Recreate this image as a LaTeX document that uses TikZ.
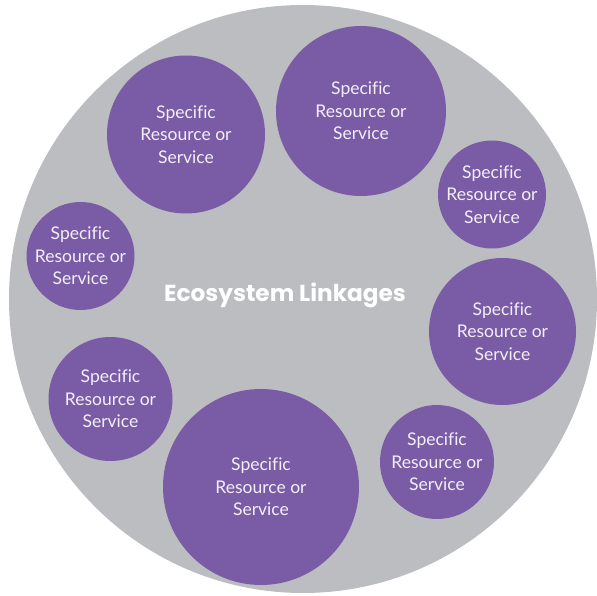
\documentclass[tikz,border=0pt]{standalone}
\usepackage{fontspec}
\setmainfont[Ligatures={NoCommon}]{Lato}
\newfontfamily\titlefont{Poppins}
\definecolor{bggrey}{HTML}{BCBDC0}
\definecolor{purp}{HTML}{7A5BA6}
\definecolor{txt}{HTML}{F3EFF7}
\tikzset{
  res/.style={circle, fill=purp, minimum size=#1, inner sep=0pt, text=txt,
    align=center, font=\fontsize{17.5}{22.5}\selectfont},
}
\begin{document}
\begin{tikzpicture}[x=1pt,y=-1pt]
\useasboundingbox (0,0) rectangle (597,596);
\fill[bggrey] (303,299) circle[radius=294];
\node[res=158] (c1) at (186,134.5) {Specific\\Resource or\\Service};
\node[res=170] (c2) at (361,111) {Specific\\Resource or\\Service};
\node[res=104] (c3) at (492,194.5) {Specific\\Resource or\\Service};
\node[res=108] (c4) at (80.5,256) {Specific\\Resource or\\Service};
\node[res=147] (c5) at (502.5,331.5) {Specific\\Resource or\\Service};
\node[res=124] (c6) at (110.5,399) {Specific\\Resource or\\Service};
\node[res=196] (c7) at (261,487) {Specific\\Resource or\\Service};
\node[res=114] (c8) at (437,462) {Specific\\Resource or\\Service};
\node[text=white, font=\titlefont\fontsize{23.2}{26}\bfseries\selectfont] (title) at (285,295) {Ecosystem Linkages};
\end{tikzpicture}
\end{document}
